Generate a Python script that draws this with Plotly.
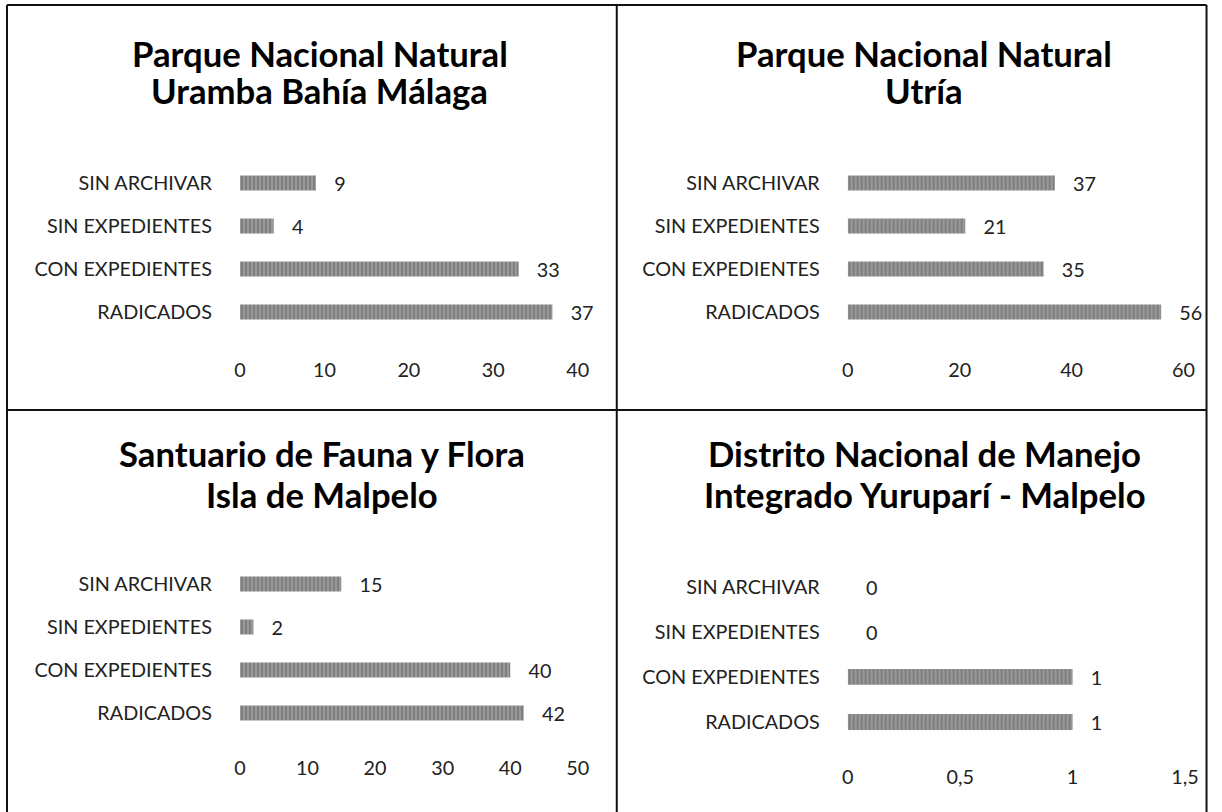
import plotly.graph_objects as go

categories = ["SIN ARCHIVAR", "SIN EXPEDIENTES", "CON EXPEDIENTES", "RADICADOS"]
title_lines = [
    ("Parque Nacional Natural", "Uramba Bahía Málaga"),
    ("Parque Nacional Natural", "Utría"),
    ("Santuario de Fauna y Flora", "Isla de Malpelo"),
    ("Distrito Nacional de Manejo", "Integrado Yuruparí - Malpelo"),
]
values_uramba = [9, 4, 33, 37]
values_utria = [37, 21, 35, 56]
values_santuario = [15, 2, 40, 42]
values_distrito = [0, 0, 1, 1]
x_ranges = [[0, 40], [0, 60], [0, 50], [0, 1.5]]
x_dticks = [10, 20, 10, 0.5]

# horizontal scale seen in the photographed page
SX, AX = 0.984, 6.0
W, H = 1222, 812
FONT = "Lato"

def px_x(p):
    return ((p - AX) / SX) / W

def px_y(p):
    return 1 - p / H

# panel geometry in target pixels:
# (x0, x1, y_top, y_bottom, ticklen, title_cx, title_y1, title_y2)
panels = [
    (240, 578, 161.5, 333.5, 19, 320, 54, 91),
    (848, 1184, 161.5, 333.5, 19, 924, 54, 91),
    (240, 578, 562.5, 734.5, 16, 322, 453, 494),
    (848, 1185.5, 564.5, 744.5, 15, 925, 453, 494),
]
all_values = [values_uramba, values_utria, values_santuario, values_distrito]
FS = 19.8
PAD = "\u00a0" * 3

fig = go.Figure()
for i, (vals, geom) in enumerate(zip(all_values, panels)):
    x0, x1, yt, yb, tl, tcx, ty1, ty2 = geom
    ax = "" if i == 0 else str(i + 1)
    fig.add_trace(go.Bar(
        x=vals, y=categories, orientation="h",
        xaxis="x" + ax, yaxis="y" + ax,
        marker=dict(color="#9a9a9a", line=dict(width=0),
                    pattern=dict(shape="|", fgcolor="#4a4a4a", size=4, solidity=0.35)),
        text=[PAD + str(v) for v in vals], textposition="outside", constraintext="none",
        textfont=dict(family=FONT, size=FS, color="#222222"),
        cliponaxis=False, showlegend=False, hoverinfo="skip",
    ))
    fig.layout["xaxis" + ax] = dict(
        domain=[px_x(x0), px_x(x1)], range=x_ranges[i], dtick=x_dticks[i], tick0=0,
        anchor="y" + ax, showgrid=False, zeroline=False, showline=False,
        ticks="outside", ticklen=tl, tickcolor="rgba(0,0,0,0)",
        tickfont=dict(family=FONT, size=FS, color="#222222"),
    )
    fig.layout["yaxis" + ax] = dict(
        domain=[px_y(yb), px_y(yt)], range=[3.5, -0.5], type="category",
        anchor="x" + ax, showgrid=False, zeroline=False, showline=False,
        ticks="outside", ticklen=23, tickcolor="rgba(0,0,0,0)",
        tickfont=dict(family=FONT, size=FS, color="#222222"),
    )
    for txt, ty in zip(title_lines[i], (ty1, ty2)):
        fig.add_annotation(
            x=px_x(tcx), y=px_y(ty), xref="paper", yref="paper",
            text="<b>" + txt + "</b>", showarrow=False,
            xanchor="center", yanchor="middle", align="center",
            font=dict(family=FONT, size=34.7, color="#000000"),
        )

line = dict(color="#111111", width=2)
L, R, T, B = 1.0 / W, 1220.5 / W, px_y(5), 0
shapes = [
    dict(type="line", xref="paper", yref="paper", x0=L, x1=R, y0=T, y1=T, line=line),
    dict(type="line", xref="paper", yref="paper", x0=L, x1=L, y0=T, y1=B, line=line),
    dict(type="line", xref="paper", yref="paper", x0=R, x1=R, y0=T, y1=B, line=line),
    dict(type="line", xref="paper", yref="paper", x0=px_x(617), x1=px_x(617), y0=T, y1=B, line=line),
    dict(type="line", xref="paper", yref="paper", x0=L, x1=R, y0=px_y(410), y1=px_y(410), line=line),
]

fig.update_layout(
    width=W, height=H, margin=dict(l=0, r=0, t=0, b=0),
    paper_bgcolor="white", plot_bgcolor="white",
    bargap=0.65, separators=",.", shapes=shapes,
    font=dict(family=FONT),
)
fig.write_html(
    "out.html",
    config={"displayModeBar": False},
    post_script="document.body.style.margin='0px';document.body.style.overflow='hidden';",
)
